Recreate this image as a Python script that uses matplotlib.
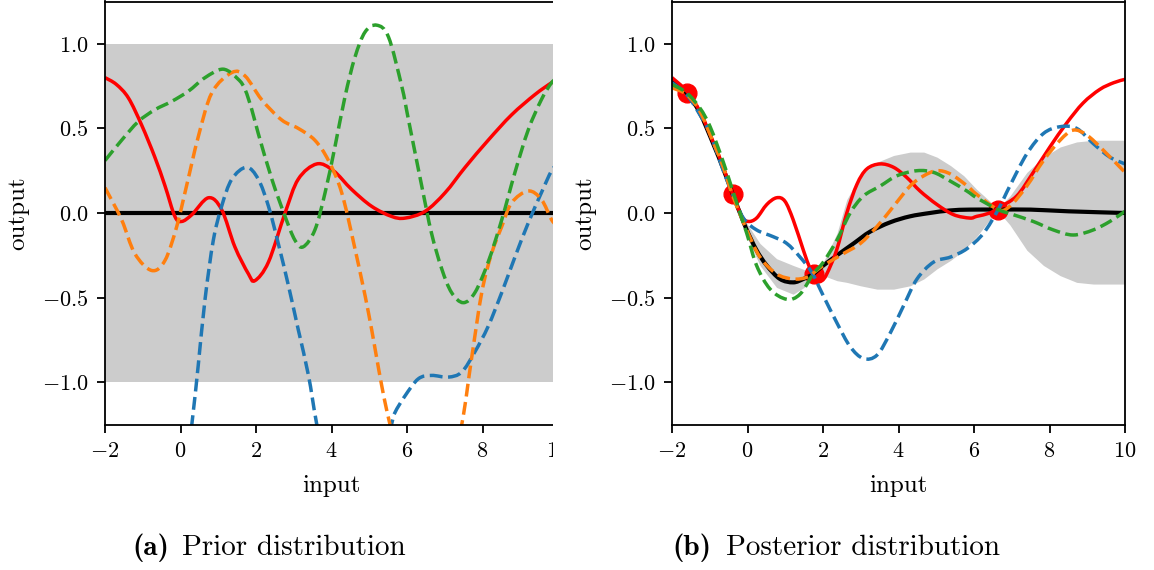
import matplotlib
matplotlib.use("Agg")
import matplotlib.pyplot as plt
import numpy as np
from matplotlib.patches import PathPatch, Rectangle
from matplotlib.path import Path

# --- fonts: Computer Modern look ---
plt.rcParams["font.family"] = "cmr10"
plt.rcParams["mathtext.fontset"] = "cm"
plt.rcParams["axes.formatter.use_mathtext"] = True

# === DATA ===
# prior: mean and +-1 band
prior_mean_x = [-2.0, 10.0]
prior_mean = [0.0, 0.0]
prior_band_lo = [-1.0, -1.0]
prior_band_hi = [1.0, 1.0]

prior_red_x = [-2.0, -1.7, -1.38, -1.03, -0.68, -0.41, -0.15, 0.03, 0.30, 0.74, 1.09, 1.44, 1.80,
               1.97, 2.33, 2.77, 3.12, 3.61, 4.05, 4.53, 5.06, 5.59, 5.95, 6.48, 7.01, 7.54, 8.15,
               8.77, 9.39, 9.83, 10.0]
prior_red = [0.80, 0.76, 0.68, 0.52, 0.33, 0.16, -0.02, -0.05, -0.01, 0.09, 0.02, -0.20, -0.36,
             -0.40, -0.29, 0.00, 0.20, 0.29, 0.25, 0.14, 0.04, -0.02, -0.03, 0.01, 0.12, 0.27,
             0.43, 0.58, 0.70, 0.77, 0.79]

prior_blue_x = [-2.0, -1.0, -0.3, 0.0, 0.30, 0.47, 0.65, 0.87, 1.09, 1.36, 1.75, 2.06, 2.33, 2.59,
                2.86, 3.12, 3.39, 3.61, 4.0, 4.6, 5.2, 5.59, 5.68, 5.95, 6.30, 6.65, 7.09, 7.45,
                7.80, 8.15, 8.51, 8.86, 9.21, 9.56, 9.83, 10.0]
prior_blue = [-2.0, -2.5, -2.2, -1.8, -1.25, -0.90, -0.51, -0.16, 0.04, 0.20, 0.27, 0.20, 0.04,
              -0.18, -0.43, -0.69, -0.96, -1.25, -1.7, -1.9, -1.6, -1.25, -1.18, -1.08, -0.98,
              -0.96, -0.97, -0.94, -0.82, -0.67, -0.47, -0.26, -0.06, 0.12, 0.25, 0.29]

prior_orange_x = [-2.0, -1.56, -1.21, -0.76, -0.41, -0.10, 0.16, 0.47, 0.83, 1.36, 1.71, 2.15,
                  2.68, 3.12, 3.56, 3.92, 4.27, 4.63, 4.98, 5.33, 5.55, 6.0, 6.5, 7.0, 7.45, 7.71,
                  7.98, 8.24, 8.51, 8.77, 9.21, 9.56, 9.83, 10.0]
prior_orange = [0.15, -0.04, -0.24, -0.34, -0.28, -0.08, 0.16, 0.45, 0.71, 0.83, 0.81, 0.67,
                0.55, 0.50, 0.43, 0.31, 0.12, -0.22, -0.59, -1.02, -1.25, -1.65, -1.85, -1.7,
                -1.25, -0.86, -0.47, -0.24, -0.08, 0.06, 0.13, 0.08, -0.04, -0.08]

prior_green_x = [-2.0, -1.56, -1.12, -0.68, -0.23, 0.21, 0.65, 1.13, 1.53, 1.71, 1.89, 2.06, 2.42,
                 2.77, 3.03, 3.25, 3.56, 3.83, 4.09, 4.36, 4.62, 4.89, 5.20, 5.51, 5.86, 6.04,
                 6.39, 6.65, 6.92, 7.18, 7.49, 7.80, 8.15, 8.51, 8.86, 9.21, 9.56, 9.83, 10.0]
prior_green = [0.31, 0.43, 0.54, 0.61, 0.66, 0.72, 0.80, 0.85, 0.79, 0.73, 0.61, 0.47, 0.20,
               -0.02, -0.16, -0.20, -0.10, 0.12, 0.39, 0.69, 0.92, 1.07, 1.11, 1.04, 0.75, 0.55,
               0.16, -0.12, -0.33, -0.47, -0.53, -0.47, -0.29, -0.04, 0.24, 0.49, 0.67, 0.77, 0.80]

# posterior: observations, mean, band
obs_x = [-1.61, -0.39, 1.76, 6.64]
obs_y = [0.71, 0.11, -0.36, 0.02]

post_mean_x = [-2.0, -1.61, -1.26, -0.91, -0.64, -0.39, -0.20, -0.02, 0.24, 0.51, 0.86, 1.21,
               1.48, 1.74, 2.01, 2.37, 2.81, 3.25, 3.78, 4.30, 4.83, 5.36, 5.89, 6.64, 7.5, 8.5, 10.0]
post_mean = [0.78, 0.71, 0.59, 0.41, 0.26, 0.11, 0.0, -0.10, -0.22, -0.31, -0.39, -0.41, -0.39,
             -0.36, -0.31, -0.25, -0.18, -0.11, -0.055, -0.02, 0.0, 0.015, 0.02, 0.02, 0.02, 0.01, 0.0]

band_x = [-2.0, -1.61, -1.26, -0.91, -0.64, -0.39, -0.20, -0.02, 0.33, 0.77, 1.21, 1.57, 1.74,
          2.01, 2.37, 2.63, 2.99, 3.43, 3.87, 4.31, 4.67, 5.02, 5.38, 5.73, 6.07, 6.42, 6.64,
          6.95, 7.40, 7.84, 8.28, 8.72, 9.16, 10.0]
band_hi = [0.79, 0.715, 0.60, 0.42, 0.27, 0.115, 0.02, -0.06, -0.18, -0.27, -0.31, -0.34, -0.35,
           -0.29, -0.12, 0.08, 0.22, 0.30, 0.34, 0.36, 0.36, 0.33, 0.28, 0.22, 0.14, 0.07, 0.03,
           0.10, 0.24, 0.33, 0.39, 0.42, 0.43, 0.43]
band_lo = [0.77, 0.705, 0.58, 0.40, 0.25, 0.105, -0.02, -0.14, -0.31, -0.44, -0.48, -0.43, -0.38,
           -0.37, -0.40, -0.41, -0.43, -0.45, -0.45, -0.43, -0.39, -0.33, -0.28, -0.22, -0.14,
           -0.04, 0.01, -0.07, -0.22, -0.31, -0.37, -0.41, -0.42, -0.42]

post_red_x = [-2.0, -1.61, -1.26, -0.91, -0.64, -0.39, -0.15, 0.02, 0.24, 0.51, 0.77, 0.99, 1.21,
              1.48, 1.66, 1.83, 1.97, 2.10, 2.36, 2.63, 2.90, 3.16, 3.51, 3.87, 4.22, 4.57, 5.02,
              5.46, 5.89, 6.07, 6.42, 6.64, 7.13, 7.57, 8.01, 8.45, 8.89, 9.33, 9.70, 10.0]
post_red = [0.80, 0.72, 0.60, 0.42, 0.27, 0.11, -0.02, -0.05, -0.03, 0.05, 0.09, 0.07, -0.04,
            -0.22, -0.33, -0.40, -0.40, -0.36, -0.22, 0.0, 0.17, 0.26, 0.29, 0.27, 0.21, 0.13,
            0.05, -0.01, -0.03, -0.02, 0.0, 0.03, 0.10, 0.24, 0.39, 0.53, 0.65, 0.73, 0.77, 0.79]

post_blue_x = [-2.0, -1.61, -1.26, -0.99, -0.64, -0.39, -0.11, 0.24, 0.68, 1.04, 1.39, 1.70, 2.01,
               2.37, 2.72, 3.07, 3.43, 3.78, 4.13, 4.49, 4.93, 5.38, 5.82, 6.25, 6.64, 6.95, 7.40,
               7.84, 8.28, 8.72, 9.16, 9.60, 10.0]
post_blue = [0.77, 0.70, 0.58, 0.47, 0.25, 0.11, -0.03, -0.10, -0.14, -0.18, -0.26, -0.35, -0.49,
             -0.65, -0.79, -0.86, -0.84, -0.71, -0.55, -0.39, -0.29, -0.26, -0.21, -0.12, 0.02,
             0.16, 0.35, 0.47, 0.51, 0.50, 0.41, 0.33, 0.29]

post_orange_x = [-2.0, -1.61, -1.26, -0.91, -0.64, -0.39, -0.02, 0.33, 0.77, 1.21, 1.57, 1.83,
                 2.01, 2.54, 2.99, 3.43, 3.87, 4.31, 4.67, 5.02, 5.38, 5.82, 6.07, 6.64, 6.95,
                 7.40, 7.84, 8.28, 8.63, 8.99, 9.43, 10.0]
post_orange = [0.74, 0.70, 0.60, 0.42, 0.27, 0.10, -0.10, -0.26, -0.36, -0.39, -0.38, -0.34,
               -0.31, -0.24, -0.18, -0.08, 0.04, 0.16, 0.22, 0.25, 0.23, 0.16, 0.11, 0.02, 0.04,
               0.16, 0.31, 0.43, 0.49, 0.46, 0.37, 0.24]

post_green_x = [-2.0, -1.61, -1.26, -0.99, -0.64, -0.39, -0.02, 0.24, 0.60, 1.04, 1.39, 1.74,
                2.01, 2.37, 2.72, 3.07, 3.52, 3.96, 4.49, 4.93, 5.36, 5.81, 6.07, 6.64, 7.04,
                7.57, 8.10, 8.63, 9.16, 9.60, 10.0]
post_green = [0.76, 0.71, 0.62, 0.51, 0.30, 0.13, -0.12, -0.31, -0.45, -0.51, -0.48, -0.36,
              -0.29, -0.16, 0.0, 0.10, 0.16, 0.22, 0.25, 0.24, 0.19, 0.13, 0.09, 0.02, -0.01,
              -0.05, -0.10, -0.13, -0.10, -0.05, 0.01]

# === STYLE ===
LW = 2.5
BAND_COLOR = "#cccccc"
C_BLUE, C_ORANGE, C_GREEN = "#1f77b4", "#ff7f0e", "#2ca02c"


def smooth_curve(ax, xs, ys, color, ls="-", lw=LW):
    """Draw a curve through the read points as Catmull-Rom style bezier segments."""
    pts = np.column_stack([xs, ys]).astype(float)
    ext = np.vstack([pts[0], pts, pts[-1]])
    verts = [pts[0]]
    codes = [Path.MOVETO]
    for i in range(len(pts) - 1):
        p0, p1, p2, p3 = ext[i], ext[i + 1], ext[i + 2], ext[i + 3]
        verts += [p1 + (p2 - p0) / 6, p2 - (p3 - p1) / 6, p2]
        codes += [Path.CURVE4] * 3
    patch = PathPatch(Path(verts, codes), fill=False, edgecolor=color, lw=lw, ls=ls,
                      joinstyle="round", capstyle="butt", zorder=2)
    ax.add_patch(patch)


W, H = 1154, 570
fig = plt.figure(figsize=(W / 100, H / 100), dpi=100)
ax_prior = fig.add_axes([105 / W, (H - 424.5) / H, 453 / W, 423 / H])
ax_post = fig.add_axes([672 / W, (H - 424.5) / H, 453 / W, 423 / H])

# prior
ax_prior.fill_between(prior_mean_x, prior_band_lo, prior_band_hi, color=BAND_COLOR, lw=0)
ax_prior.plot(prior_mean_x, prior_mean, color="k", lw=LW + 0.5)
smooth_curve(ax_prior, prior_red_x, prior_red, "r")
smooth_curve(ax_prior, prior_blue_x, prior_blue, C_BLUE, "--")
smooth_curve(ax_prior, prior_orange_x, prior_orange, C_ORANGE, "--")
smooth_curve(ax_prior, prior_green_x, prior_green, C_GREEN, "--")

# posterior
ax_post.fill_between(band_x, band_lo, band_hi, color=BAND_COLOR, lw=0)
ax_post.plot(obs_x, obs_y, "o", color="r", ms=13.5)
smooth_curve(ax_post, post_mean_x, post_mean, "k", lw=LW + 0.5)
smooth_curve(ax_post, post_red_x, post_red, "r")
smooth_curve(ax_post, post_blue_x, post_blue, C_BLUE, "--")
smooth_curve(ax_post, post_orange_x, post_orange, C_ORANGE, "--")
smooth_curve(ax_post, post_green_x, post_green, C_GREEN, "--")

for ax in (ax_prior, ax_post):
    ax.set_xlim(-2, 10)
    ax.set_ylim(-1.25, 1.25)
    ax.set_xticks([-2, 0, 2, 4, 6, 8, 10])
    ax.set_yticks([-1.0, -0.5, 0.0, 0.5, 1.0])
    ax.tick_params(labelsize=16, length=6, width=1.3, pad=6)
    for sp in ax.spines.values():
        sp.set_linewidth(1.3)
    ax.set_xlabel("input", fontsize=18, labelpad=10)
    ax.set_ylabel("output", fontsize=18, labelpad=9)

# the left panel is cropped on its right edge in the original layout
fig.patches.append(Rectangle((553 / W, 0), 21 / W, 1, transform=fig.transFigure,
                             facecolor="white", edgecolor="none", zorder=10))

# sub-captions: bold label + regular text
cap_y = (H - 555) / H
fig.text(132 / W, cap_y, "(a)", fontsize=21, family="cmb10", ha="left", va="baseline")
fig.text(182 / W, cap_y, "Prior distribution", fontsize=21, ha="left", va="baseline")
fig.text(672 / W, cap_y, "(b)", fontsize=21, family="cmb10", ha="left", va="baseline")
fig.text(726 / W, cap_y, "Posterior distribution", fontsize=21, ha="left", va="baseline")

fig.savefig("out.png", dpi=100)
